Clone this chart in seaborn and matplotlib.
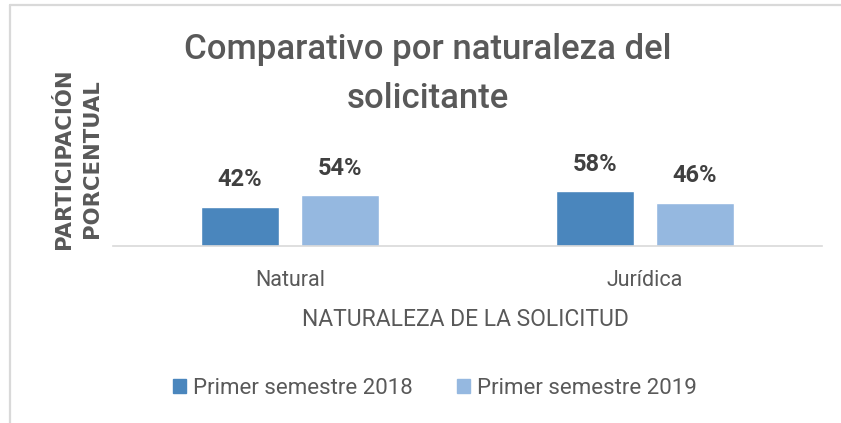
import matplotlib
matplotlib.use("Agg")
import matplotlib.pyplot as plt
import seaborn as sns
import pandas as pd
from matplotlib.patches import Rectangle
from matplotlib.lines import Line2D

categories = ["Natural", "Jurídica"]
series = ["Primer semestre 2018", "Primer semestre 2019"]
values_2018 = [42, 58]
values_2019 = [54, 46]
labels_2018 = ["42%", "58%"]
labels_2019 = ["54%", "46%"]

df = pd.DataFrame({
    "cat": categories * 2,
    "serie": [series[0]] * 2 + [series[1]] * 2,
    "val": values_2018 + values_2019,
})

sns.set_theme(style="white")
plt.rcParams["font.family"] = ["Roboto", "DejaVu Sans"]

colors = ["#4A86BD", "#95B8E0"]
TXT = "#595959"

fig = plt.figure(figsize=(8.41, 4.23), dpi=100)
W, H = 841, 423
ax = fig.add_axes([113 / W, 1 - 246 / H, (822 - 113) / W, 94 / H])

sns.barplot(data=df, x="cat", y="val", hue="serie", hue_order=series,
            order=categories, palette=colors, width=0.565, gap=0.22,
            ax=ax, legend=False, saturation=1)

ax.set_ylim(0, 100)
ax.set_xlim(-0.5, 1.5)
ax.set_yticks([])
ax.set_xticks([0, 1])
ax.set_xticklabels(categories, fontsize=15.5, color=TXT)
ax.tick_params(axis="x", length=0, pad=17)
for s in ["top", "right", "left"]:
    ax.spines[s].set_visible(False)
ax.spines["bottom"].set_color("#D9D9D9")
ax.spines["bottom"].set_linewidth(1.2)
ax.set_xlabel("")
ax.set_ylabel("")

for cont, labs in zip(ax.containers, [labels_2018, labels_2019]):
    ax.bar_label(cont, labels=labs, padding=11, fontsize=17, fontweight="bold",
                 color="#404040")

fig.text(428 / W, 1 - 74 / H, "Comparativo por naturaleza del\nsolicitante",
         ha="center", va="center", fontsize=25, fontweight="medium", color=TXT,
         linespacing=1.65)

fig.text(77.5 / W, 1 - 159 / H, "PARTICIPACIÓN\nPORCENTUAL", rotation=90,
         ha="center", va="center", fontsize=15.2, fontweight="bold", color=TXT,
         family="DejaVu Sans", multialignment="center",
         linespacing=1.5)

fig.text(465 / W, 1 - 320 / H, "NATURALEZA DE LA SOLICITUD", ha="center",
         va="center", fontsize=16.5, color=TXT)

handles = [Rectangle((0, 0), 1, 1, color=c) for c in colors]
fig.legend(handles, series, loc="center", bbox_to_anchor=(435 / W, 1 - 388 / H),
           ncol=2, frameon=False, fontsize=16, handlelength=0.6, handleheight=0.6,
           handletextpad=0.3, columnspacing=2.0, labelcolor=TXT)

# outer frame
fig.add_artist(Line2D([9.5 / W, 9.5 / W], [0, 1 - 5.5 / H], color="#D9D9D9", lw=1.6,
                      transform=fig.transFigure))
fig.add_artist(Line2D([9.5 / W, 1], [1 - 5.5 / H, 1 - 5.5 / H], color="#D9D9D9",
                      lw=1.6, transform=fig.transFigure))

fig.savefig("out.png", dpi=100)
